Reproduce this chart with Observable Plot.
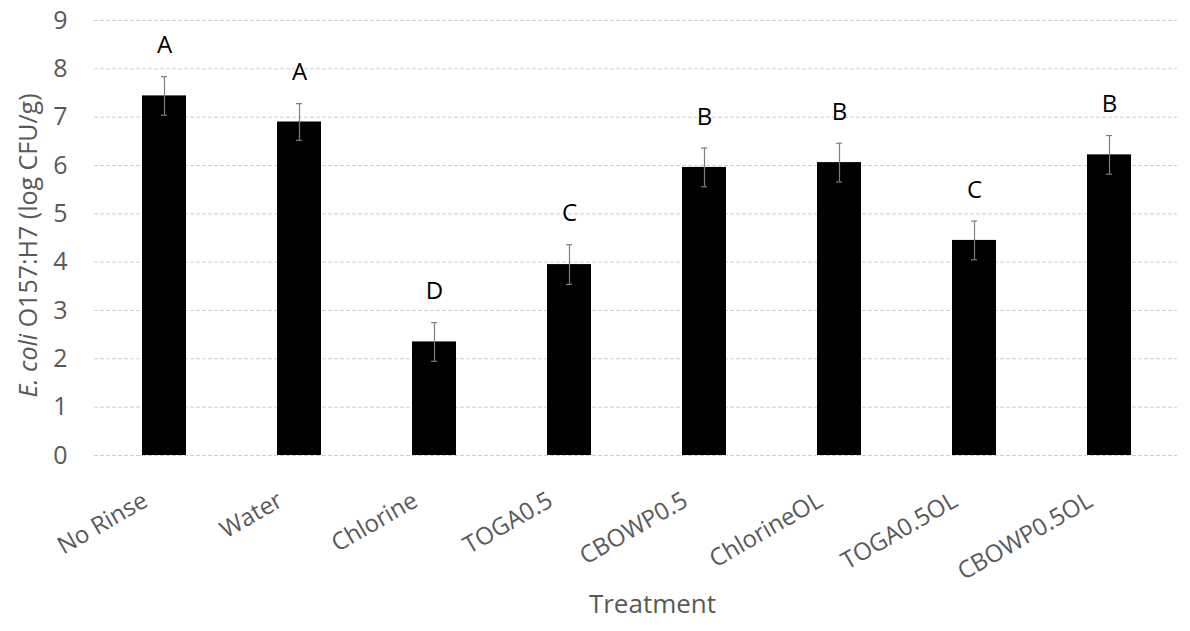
<!DOCTYPE html>
<html>
<head>
<meta charset="utf-8">
<script src="https://cdn.jsdelivr.net/npm/d3@7"></script>
<script src="https://cdn.jsdelivr.net/npm/@observablehq/plot@0.6"></script>
<style>
  html, body { margin: 0; padding: 0; background: white; }
  #chart svg { display: block; }
</style>
</head>
<body>
<div id="chart"></div>
<script>
const categories = ["No Rinse", "Water", "Chlorine", "TOGA0.5", "CBOWP0.5", "ChlorineOL", "TOGA0.5OL", "CBOWP0.5OL"];
const means = [7.44, 6.90, 2.35, 3.95, 5.96, 6.06, 4.45, 6.22];
const errors = [0.40, 0.38, 0.40, 0.41, 0.40, 0.40, 0.40, 0.40];
const letters = ["A", "A", "D", "C", "B", "B", "C", "B"];
const yTicks = [0, 1, 2, 3, 4, 5, 6, 7, 8, 9];
const xTitle = "Treatment";
const yTitleItalic = "E. coli";
const yTitleRest = " O157:H7 (log CFU/g)";

const data = categories.map((c, i) => ({c, m: means[i], e: errors[i], l: letters[i]}));
const font = "'Open Sans', sans-serif";
const errColor = "#7f7f7f";

const svg = Plot.plot({
  width: 1190,
  height: 631,
  marginLeft: 97,
  marginRight: 13,
  marginTop: 20,
  marginBottom: 176,
  style: {fontFamily: font, background: "white"},
  x: {domain: categories, paddingInner: 0.674, paddingOuter: 0.337, label: null},
  y: {domain: [0, 9], label: null},
  marks: [
    Plot.gridY(yTicks, {stroke: "#d0d0d0", strokeOpacity: 1, strokeDasharray: "4,2", insetLeft: -3}),
    Plot.barY(data, {x: "c", y: "m", fill: "black"}),
    Plot.ruleX(data, {x: "c", y1: d => d.m - d.e, y2: d => d.m + d.e, stroke: errColor, strokeWidth: 1.2}),
    Plot.tickY(data, {x: "c", y: d => d.m + d.e, stroke: errColor, strokeWidth: 1.2, insetLeft: 19, insetRight: 19}),
    Plot.tickY(data, {x: "c", y: d => d.m - d.e, stroke: errColor, strokeWidth: 1.2, insetLeft: 19, insetRight: 19}),
    Plot.text(data, {x: "c", y: d => d.m + d.e, text: "l", dy: -31, fontSize: 24, fill: "black", fontFamily: font}),
    Plot.axisY(yTicks, {tickSize: 0, tickPadding: 30, fontSize: 25, color: "#595959", label: null, fontFamily: font}),
    Plot.axisX({tickSize: 0, tickRotate: -30, tickPadding: 43, dx: -19, fontSize: 24, color: "#595959", label: null, fontFamily: font}),
    Plot.text([xTitle], {text: d => d, frameAnchor: "bottom", dx: 15, dy: 157, fontSize: 26, fill: "#595959", fontFamily: font})
  ]
});

const yScale = svg.scale("y");
const yMid = (yScale.range[0] + yScale.range[1]) / 2 + 8;
const t = d3.select(svg).append("text")
  .attr("transform", `translate(28,${yMid}) rotate(-90)`)
  .attr("text-anchor", "middle")
  .attr("dy", "0.35em")
  .attr("fill", "#595959")
  .style("font-family", font)
  .style("font-size", "25px");
t.append("tspan").attr("font-style", "italic").text(yTitleItalic);
t.append("tspan").text(yTitleRest);

document.getElementById("chart").appendChild(svg);
</script>
</body>
</html>
